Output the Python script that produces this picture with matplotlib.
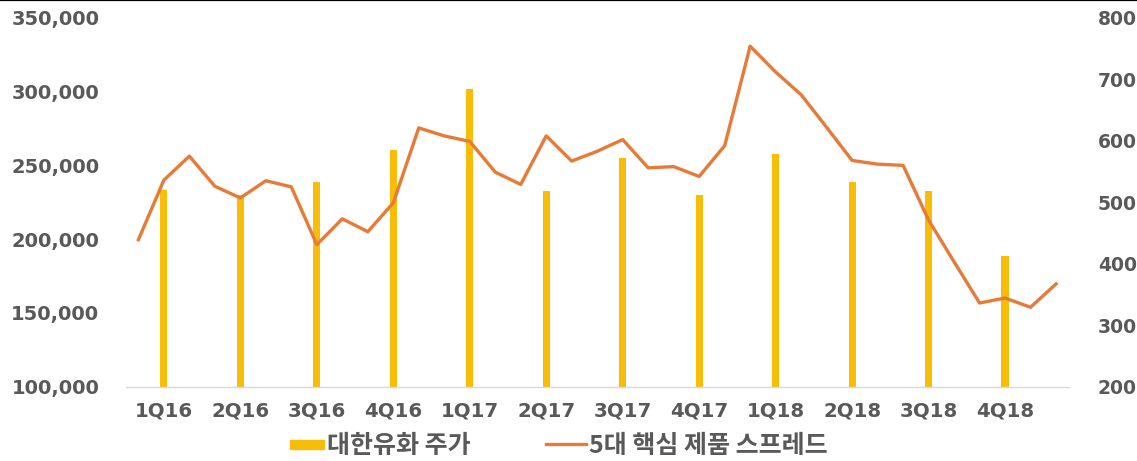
import matplotlib
matplotlib.use("Agg")
import matplotlib.pyplot as plt
import matplotlib.patches as mpatches
from matplotlib.lines import Line2D
from matplotlib.legend_handler import HandlerPatch
import numpy as np

# monthly spread (right axis), Dec-15 .. Dec-18
spread = [439, 536, 575, 526, 507, 535, 525, 431, 473, 452, 499, 621,
          608, 599, 549, 529, 608, 567, 583, 602, 556, 558, 542, 592,
          754, 712, 675, 622, 568, 562, 560, 471, 403, 336, 344, 329, 367]

# quarterly share price (left axis)
quarters = ["1Q16", "2Q16", "3Q16", "4Q16", "1Q17", "2Q17",
            "3Q17", "4Q17", "1Q18", "2Q18", "3Q18", "4Q18"]
price = [233500, 230000, 239000, 260500, 301500, 232500,
         255000, 230000, 257500, 239000, 232500, 188500]

month_idx = np.arange(len(spread))
quarter_idx = np.arange(1, len(spread), 3)[:len(quarters)]

BAR_C = "#F7BD08"
LINE_C = "#E87A38"
TXT_C = "#595959"

fig = plt.figure(figsize=(11.37, 4.61), dpi=100)
ax = fig.add_axes([0.1105, 0.1616, 0.8295, 0.7994])
ax2 = ax.twinx()

ax.bar(quarter_idx, price, width=0.28, bottom=0, color=BAR_C, zorder=2)
ax2.plot(month_idx, spread, color=LINE_C, lw=2.4, solid_joinstyle="round", zorder=3)

ax.set_xlim(-0.5, 36.5)
ax.set_ylim(100000, 350000)
ax2.set_ylim(200, 800)
ax.set_yticks(np.arange(100000, 350001, 50000))
ax2.set_yticks(np.arange(200, 801, 100))
ax.set_yticklabels([f"{v:,}" for v in range(100000, 350001, 50000)])
ax.set_xticks(quarter_idx)
ax.set_xticklabels(quarters)

for a in (ax, ax2):
    for s in a.spines.values():
        s.set_visible(False)
ax.spines["bottom"].set_visible(True)
ax.spines["bottom"].set_color("#D9D9D9")
ax.spines["bottom"].set_linewidth(1.0)

ax.tick_params(axis="y", length=0, pad=19, labelsize=14, labelcolor=TXT_C)
ax2.tick_params(axis="y", length=0, pad=21, labelsize=13.5, labelcolor=TXT_C)
ax.tick_params(axis="x", length=0, pad=11, labelsize=14.2, labelcolor=TXT_C)
for lbl in ax.get_yticklabels() + ax2.get_yticklabels() + ax.get_xticklabels():
    lbl.set_fontweight("bold")
ax.set_zorder(ax2.get_zorder() - 1)
ax2.patch.set_visible(False)


def short_rect(legend, orig_handle, xdescent, ydescent, width, height, fontsize):
    return mpatches.Rectangle((xdescent + width - 25, ydescent + height * 0.2),
                              25, height * 0.55)


bar_proxy = mpatches.Patch(color=BAR_C)
line_proxy = Line2D([], [], color=LINE_C, lw=2.4)
fig.legend([bar_proxy, line_proxy], ["대한유화 주가", "5대 핵심 제품 스프레드"],
           loc="center", bbox_to_anchor=(0.489, 0.033), ncol=2, frameon=False,
           handlelength=1.6, handletextpad=0.12, columnspacing=3.0,
           handler_map={mpatches.Patch: HandlerPatch(patch_func=short_rect)},
           prop={"family": ["Noto Sans CJK KR", "DejaVu Sans"], "size": 18, "weight": "bold"},
           labelcolor=TXT_C)

fig.add_artist(Line2D([0, 1], [0.999, 0.999], transform=fig.transFigure,
                      color="black", lw=1.6))

fig.savefig("out.png", dpi=100)
